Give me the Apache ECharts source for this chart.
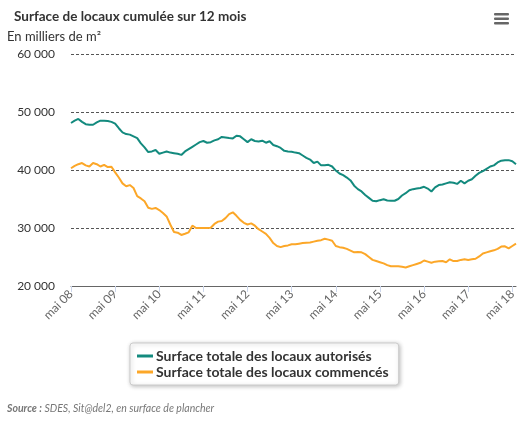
<!DOCTYPE html>
<html>
<head>
<meta charset="utf-8">
<script src="https://cdn.jsdelivr.net/npm/echarts@6/dist/echarts.min.js"></script>
<style>
  html, body { margin: 0; padding: 0; background: #fff; }
  #chart { width: 529px; height: 422px; }
</style>
</head>
<body>
<div id="chart"></div>
<script>
// mois de mai 2008 à juin 2018, cumul sur 12 mois, en milliers de m2
var monthNames = ['mai', 'juin', 'juil.', 'août', 'sept.', 'oct.', 'nov.', 'déc.', 'janv.', 'févr.', 'mars', 'avr.'];
var years = ['08', '09', '10', '11', '12', '13', '14', '15', '16', '17', '18'];
var tickLabels = ['mai 08', 'mai 09', 'mai 10', 'mai 11', 'mai 12', 'mai 13', 'mai 14', 'mai 15', 'mai 16', 'mai 17', 'mai 18'];
var yTicks = [20000, 30000, 40000, 50000, 60000];

var autorises = [
  48100, 48500, 48800, 48300, 47900, 47800, 47800, 48200, 48500, 48500, 48450, 48300,
  48000, 47200, 46500, 46200, 46100, 45800, 45500, 44600, 43900, 43100, 43200, 43450,
  42800, 43000, 43200, 43000, 42900, 42800, 42600, 43200, 43600, 44000, 44400, 44800,
  45000, 44700, 44800, 45100, 45300, 45700, 45600, 45500, 45450, 45900, 45800, 45300,
  44800, 45300, 45000, 44900, 45050, 44700, 44950, 44300, 44100, 43800, 43300, 43200,
  43150, 43000, 42900, 42500, 42100, 41800, 41200, 41450, 40800, 40800, 40900, 40600,
  39900, 39400, 39100, 38700, 38200, 37300, 36700, 36300, 35700, 35200, 34700, 34600,
  34800, 34950, 34750, 34700, 34700, 35000, 35600, 36000, 36500, 36700, 36800, 36900,
  37100, 36800, 36300, 37000, 37400, 37500, 37700, 37900, 37800, 37600, 38150, 37700,
  38150, 38400, 39000, 39500, 39800, 40200, 40600, 40800, 41300, 41600, 41700, 41700,
  41500, 41000
];

var commences = [
  40300, 40700, 41000, 41200, 40800, 40600, 41200, 41000, 40600, 40900, 40500, 40550,
  39600, 38700, 37700, 37200, 37400, 36900, 35500, 35100, 34600, 33500, 33300, 33450,
  33100, 32600, 32000, 30600, 29300, 29200, 28800, 29000, 29250, 30400, 30000, 30000,
  30000, 30000, 30050, 30700, 31100, 31200, 31700, 32400, 32700, 32100, 31400, 30900,
  30600, 30800, 30400, 29800, 29400, 29000, 28300, 27400, 26900, 26700, 26900, 27000,
  27200, 27200, 27300, 27400, 27450, 27500, 27650, 27800, 27900, 28150, 28000, 27800,
  26900, 26700, 26600, 26400, 26100, 25800, 25850, 25800, 25500, 25000, 24500, 24300,
  24100, 23900, 23600, 23400, 23400, 23400, 23300, 23200, 23400, 23600, 23800, 24000,
  24400, 24200, 24000, 24200, 24250, 24300, 24100, 24600, 24300, 24300, 24500, 24600,
  24500, 24600, 24700, 25100, 25600, 25800, 26000, 26150, 26400, 26800, 26850, 26500,
  26900, 27300
];

var categories = [];
for (var i = 0; i < autorises.length; i++) {
  var y = years[Math.floor((i + 4) / 12)];
  categories.push(monthNames[i % 12] + ' ' + y);
}

function fmt(v) {
  return String(v).replace(/\B(?=(\d{3})+(?!\d))/g, ' ');
}

var chart = echarts.init(document.getElementById('chart'), null, { renderer: 'canvas' });

var option = {
  backgroundColor: '#FFFFFF',
  animation: false,
  textStyle: { fontFamily: 'Lato, "DejaVu Sans", sans-serif' },
  title: [
    {
      text: 'Surface de locaux cumulée sur 12 mois',
      left: 9,
      top: 5,
      textStyle: { fontSize: 13.5, fontWeight: 'bold', color: '#333', fontFamily: 'Lato, sans-serif' }
    },
    {
      text: 'En milliers de m²',
      left: 2,
      top: 25,
      textStyle: { fontSize: 13, fontWeight: 'normal', color: '#333', fontFamily: 'Lato, sans-serif' }
    }
  ],
  grid: {
    left: 71,
    right: 13,
    top: 54,
    bottom: 136
  },
  legend: {
    orient: 'vertical',
    left: 130,
    top: 343,
    padding: [6, 10, 6, 7],
    itemGap: 2,
    itemWidth: 16,
    itemHeight: 3,
    icon: 'rect',
    backgroundColor: '#fff',
    borderColor: '#ccc',
    borderWidth: 1,
    borderRadius: 3,
    shadowColor: 'rgba(0,0,0,0.25)',
    shadowBlur: 4,
    shadowOffsetX: 1,
    shadowOffsetY: 1,
    textStyle: { fontSize: 14, fontWeight: 'bold', color: '#333', fontFamily: 'Lato, sans-serif', padding: [0, 0, 0, -2] },
    data: ['Surface totale des locaux autorisés', 'Surface totale des locaux commencés']
  },
  xAxis: {
    type: 'category',
    boundaryGap: false,
    data: categories,
    axisLine: { lineStyle: { color: '#666', width: 1 } },
    axisTick: {
      interval: function (idx) { return idx % 12 === 0; },
      length: 6,
      lineStyle: { color: '#ccd6eb' }
    },
    axisLabel: {
      interval: function (idx) { return idx % 12 === 0; },
      formatter: function (val, idx) { return tickLabels[idx / 12]; },
      rotate: 45,
      color: '#666',
      fontSize: 12,
      margin: 6
    },
    splitLine: { show: false }
  },
  yAxis: {
    type: 'value',
    min: yTicks[0],
    max: yTicks[yTicks.length - 1],
    interval: 10000,
    axisLine: { show: false },
    axisTick: { show: false },
    axisLabel: {
      color: '#333',
      fontSize: 12,
      margin: 16,
      formatter: function (v) { return fmt(v); }
    },
    splitLine: { lineStyle: { color: '#555', type: [3, 2], width: 1 } }
  },
  series: [
    {
      name: 'Surface totale des locaux autorisés',
      type: 'line',
      data: autorises,
      showSymbol: false,
      color: '#138a7e',
      lineStyle: { width: 2 }
    },
    {
      name: 'Surface totale des locaux commencés',
      type: 'line',
      data: commences,
      showSymbol: false,
      color: '#fca728',
      lineStyle: { width: 2 }
    }
  ],
  graphic: [
    { type: 'rect', left: 494, top: 13, shape: { width: 15, height: 2.5, r: 1 }, style: { fill: '#666' } },
    { type: 'rect', left: 494, top: 17.5, shape: { width: 15, height: 2.5, r: 1 }, style: { fill: '#666' } },
    { type: 'rect', left: 494, top: 22, shape: { width: 15, height: 2.5, r: 1 }, style: { fill: '#666' } },
    {
      type: 'text',
      left: 7,
      top: 403,
      style: {
        text: '{b|Source :} SDES, Sit@del2, en surface de plancher',
        fill: '#777',
        font: 'italic 10.5px Lato, sans-serif',
        rich: {
          b: { fontWeight: 'bold', fontStyle: 'italic', fontSize: 10.5, fill: '#777', fontFamily: 'Lato, sans-serif' }
        }
      }
    }
  ]
};

chart.setOption(option);
</script>
</body>
</html>
